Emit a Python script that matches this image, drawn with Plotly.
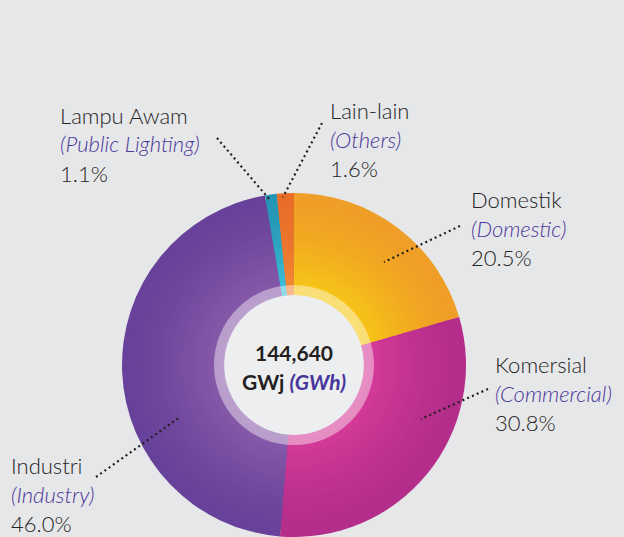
import plotly.graph_objects as go
import numpy as np

# ---------------- data ----------------
labels_ms = ["Domestik", "Komersial", "Industri", "Lampu Awam", "Lain-lain"]
labels_en = ["(Domestic)", "(Commercial)", "(Industry)", "(Public Lighting)", "(Others)"]
shares = [20.5, 30.8, 46.0, 1.1, 1.6]
share_text = ["20.5%", "30.8%", "46.0%", "1.1%", "1.6%"]
total_value = "144,640"
unit_ms = "GWj"
unit_en = "(GWh)"

# ---------------- styling ----------------
W, H = 624, 537
CX, CY = 294, 365
R_OUT = 172
R_RING_OUT = 80
R_RING_IN = 70
BG = "#E6E7E8"
DARK = "#262425"
PURPLE = "#4A379C"
FONT = "Lato"

outer_cols = ["#EF9E27", "#B42D8B", "#68429A", "#2494B4", "#E86D27"]
inner_cols = ["#F7CC14", "#D93D9A", "#8C5EAB", "#40C7DE", "#F28A3A"]


def hex2rgb(h):
    h = h.lstrip("#")
    return np.array([int(h[i:i + 2], 16) for i in (0, 2, 4)], dtype=float)


def mix(a, b, t):
    c = hex2rgb(a) * (1 - t) + hex2rgb(b) * t
    return "rgb(%d,%d,%d)" % tuple(np.round(c).astype(int))


def dom(r):
    return dict(x=[(CX - r) / W, (CX + r) / W],
                y=[1 - (CY + r) / H, 1 - (CY - r) / H])


fig = go.Figure()

# radial gradient imitation: stacked pies of decreasing radius
radii = np.arange(R_OUT, R_RING_IN, -5)
for r in radii:
    t = ((R_OUT - r) / (R_OUT - R_RING_IN)) ** 1.5
    cols = [mix(o, i, t) for o, i in zip(outer_cols, inner_cols)]
    fig.add_trace(go.Pie(
        labels=labels_ms, values=shares, sort=False, direction="clockwise",
        rotation=0, textinfo="none", hoverinfo="skip", showlegend=False,
        marker=dict(colors=cols, line=dict(width=0)), domain=dom(r)))

# translucent ring
fig.add_trace(go.Pie(
    values=[1], hole=R_RING_IN / R_RING_OUT, textinfo="none", hoverinfo="skip",
    showlegend=False, marker=dict(colors=["rgba(255,255,255,0.42)"], line=dict(width=0)),
    domain=dom(R_RING_OUT)))
# centre disc
fig.add_trace(go.Pie(
    values=[1], textinfo="none", hoverinfo="skip", showlegend=False,
    marker=dict(colors=["#EDEEF0"], line=dict(width=0)), domain=dom(R_RING_IN)))


def px(x):
    return x / W


def py(y):
    return 1 - y / H


ann = []
# centre text
ann.append(dict(x=px(CX), y=py(352), text="<b>%s</b>" % total_value,
                font=dict(family=FONT, size=21, color="#231F20")))
ann.append(dict(x=px(CX), y=py(381),
                text="<b>%s <i><span style='color:#46359A'>%s</span></i></b>" % (unit_ms, unit_en),
                font=dict(family=FONT, size=21, color="#231F20")))

# label blocks: (index, left x, first-line middle y)
label_pos = {
    3: (58, 117),
    4: (328, 112),
    0: (469, 201),
    1: (493, 366),
    2: (9, 467),
}
STEP = 29.0
for i, (lx, ly) in label_pos.items():
    ann.append(dict(x=px(lx), y=py(ly - 2), xanchor="left", text=labels_ms[i],
                    font=dict(family=FONT, size=22, color=DARK, weight=300)))
    ann.append(dict(x=px(lx), y=py(ly + STEP - 2), xanchor="left",
                    text="<i>%s</i>" % labels_en[i],
                    font=dict(family=FONT, size=22, color=PURPLE, weight=300)))
    ann.append(dict(x=px(lx), y=py(ly + 2 * STEP - 2), xanchor="left", text=share_text[i],
                    font=dict(family=FONT, size=22, color=DARK, weight=300)))

for a in ann:
    a.update(xref="paper", yref="paper", showarrow=False, yanchor="middle")
    a.setdefault("xanchor", "center")

# dotted leader lines (pixel positions)
leaders = [
    ((217, 138), (270, 200)),
    ((322, 123), (283, 197)),
    ((460, 226), (384, 262)),
    ((488, 389), (421, 419)),
    ((96, 477), (180, 417)),
]
shapes = []
for (x0, y0), (x1, y1) in leaders:
    shapes.append(dict(type="line", xref="paper", yref="paper",
                       x0=px(x0), y0=py(y0), x1=px(x1), y1=py(y1),
                       line=dict(color="#231F20", width=2.2, dash="2px,3.2px")))

fig.update_layout(
    width=W, height=H,
    margin=dict(l=0, r=0, t=0, b=0),
    paper_bgcolor=BG, plot_bgcolor=BG,
    annotations=ann, shapes=shapes,
    showlegend=False,
)

fig.write_html("out.html", config={"displayModeBar": False},
               post_script="document.body.style.margin='0';document.body.style.overflow='hidden';")
